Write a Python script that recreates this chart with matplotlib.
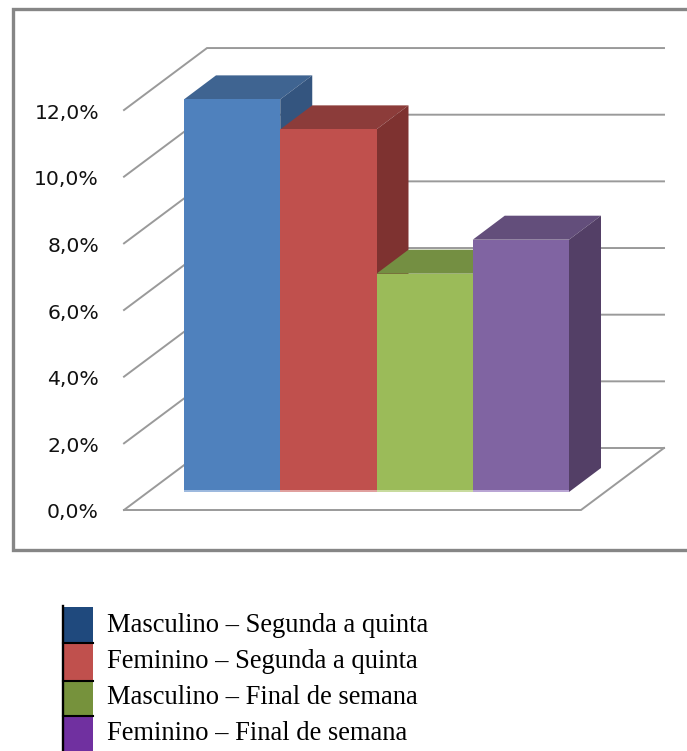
import matplotlib
matplotlib.use("Agg")
import matplotlib.pyplot as plt
from matplotlib.patches import Polygon, Rectangle

# ---------- data ----------
series = ["Masculino – Segunda a quinta", "Feminino – Segunda a quinta",
          "Masculino – Final de semana", "Feminino – Final de semana"]
values = [11.78, 10.88, 6.55, 7.57]
ticks = [0, 2, 4, 6, 8, 10, 12]
tick_labels = ["0,0%", "2,0%", "4,0%", "6,0%", "8,0%", "10,0%", "12,0%"]
front_colors = ["#4F81BD", "#C0504D", "#9BBB59", "#8064A2"]
top_colors = ["#3F6491", "#8C3C3A", "#748F42", "#634E7B"]
side_colors = ["#34557F", "#7E3230", "#66803A", "#533F66"]
base_colors = ["#9DB9DE", "#E0A09E", "#C8DB9E", "#B9A5D4"]
legend_colors = ["#1F497D", "#C0504D", "#76923C", "#7030A0"]

W, H = 687, 751
PX = 96.25      # pixels per category
PY = 33.33      # pixels per percent
X0, Y0 = 184, 492

fig = plt.figure(figsize=(W / 100, H / 100), dpi=100)
ax = fig.add_axes([0, 0, 1, 1])
ax.set_xlim(-X0 / PX, (W - X0) / PX)
ax.set_ylim((Y0 - H) / PY, Y0 / PY)
ax.axis("off")

dx_bar, dy_bar = 32 / PX, 24 / PY          # bar depth
dx_wall, dy_wall = 83 / PX, 62 / PY        # floor depth
fx, fy = -60 / PX, -18 / PY                # front-left floor corner
fr = fx + 457 / PX                         # front-right floor corner
grid_c = "#9A9A9A"

# outer frame (no right side)
xl = (12.5 - X0) / PX
xr = (W - X0) / PX
yt = (Y0 - 8.5) / PY
yb = (Y0 - 549.5) / PY
ax.plot([xr, xl, xl, xr], [yt, yt, yb, yb], color="#868686", lw=2.4,
        solid_joinstyle="miter")

# walls and grid
for t in ticks:
    ax.plot([fx, fx + dx_wall, fx + dx_wall + 457 / PX],
            [fy + t, fy + t + dy_wall, fy + t + dy_wall],
            color=grid_c, lw=1.4, solid_joinstyle="miter")
ax.plot([fx, fr, fr + dx_wall], [fy, fy, fy + dy_wall],
        color=grid_c, lw=1.4, solid_joinstyle="miter")

# bars
for i, v in enumerate(values):
    l, r = i, i + 1
    ax.add_patch(Polygon([(l, v), (r, v), (r + dx_bar, v + dy_bar), (l + dx_bar, v + dy_bar)],
                         fc=top_colors[i], ec="none", zorder=3 + i))
    ax.add_patch(Polygon([(r, 0), (r, v), (r + dx_bar, v + dy_bar), (r + dx_bar, dy_bar)],
                         fc=side_colors[i], ec="none", zorder=3 + i))
    ax.add_patch(Rectangle((l, 0), 1, v, fc=front_colors[i], ec="none", zorder=3.5 + i))
    ax.add_patch(Rectangle((l, 0), 1, 2 / PY, fc=base_colors[i], ec="none", zorder=3.6 + i))

# value-axis labels
for t, s in zip(ticks, tick_labels):
    ax.text((99 - X0) / PX, fy + t - 3 / PY, s, ha="right", va="center",
            fontsize=14.7, family="DejaVu Sans", color="#111111")

# legend (pixel rows converted to the same data space)
rows = [(607, 642), (643, 680), (682, 715), (717, 751)]
text_y = [625, 662, 698, 733]
sx0, sx1 = 63.5, 93
for (a, b), c, s, ty in zip(rows, legend_colors, series, text_y):
    ax.add_patch(Rectangle(((sx0 - X0) / PX, (Y0 - b) / PY), (sx1 - sx0) / PX, (b - a) / PY,
                           fc=c, ec="none"))
    ax.text((107 - X0) / PX, (Y0 - ty) / PY, s, ha="left", va="center",
            fontsize=19.1, family="Liberation Serif", color="black")
ax.plot([(62.5 - X0) / PX] * 2, [(Y0 - 606) / PY, (Y0 - 751) / PY], color="black", lw=1.7)
for y in (642.5, 681, 716):
    ax.plot([(62.5 - X0) / PX, (sx1 - X0) / PX], [(Y0 - y) / PY] * 2, color="black", lw=1.5)

fig.savefig("out.png", dpi=100)
